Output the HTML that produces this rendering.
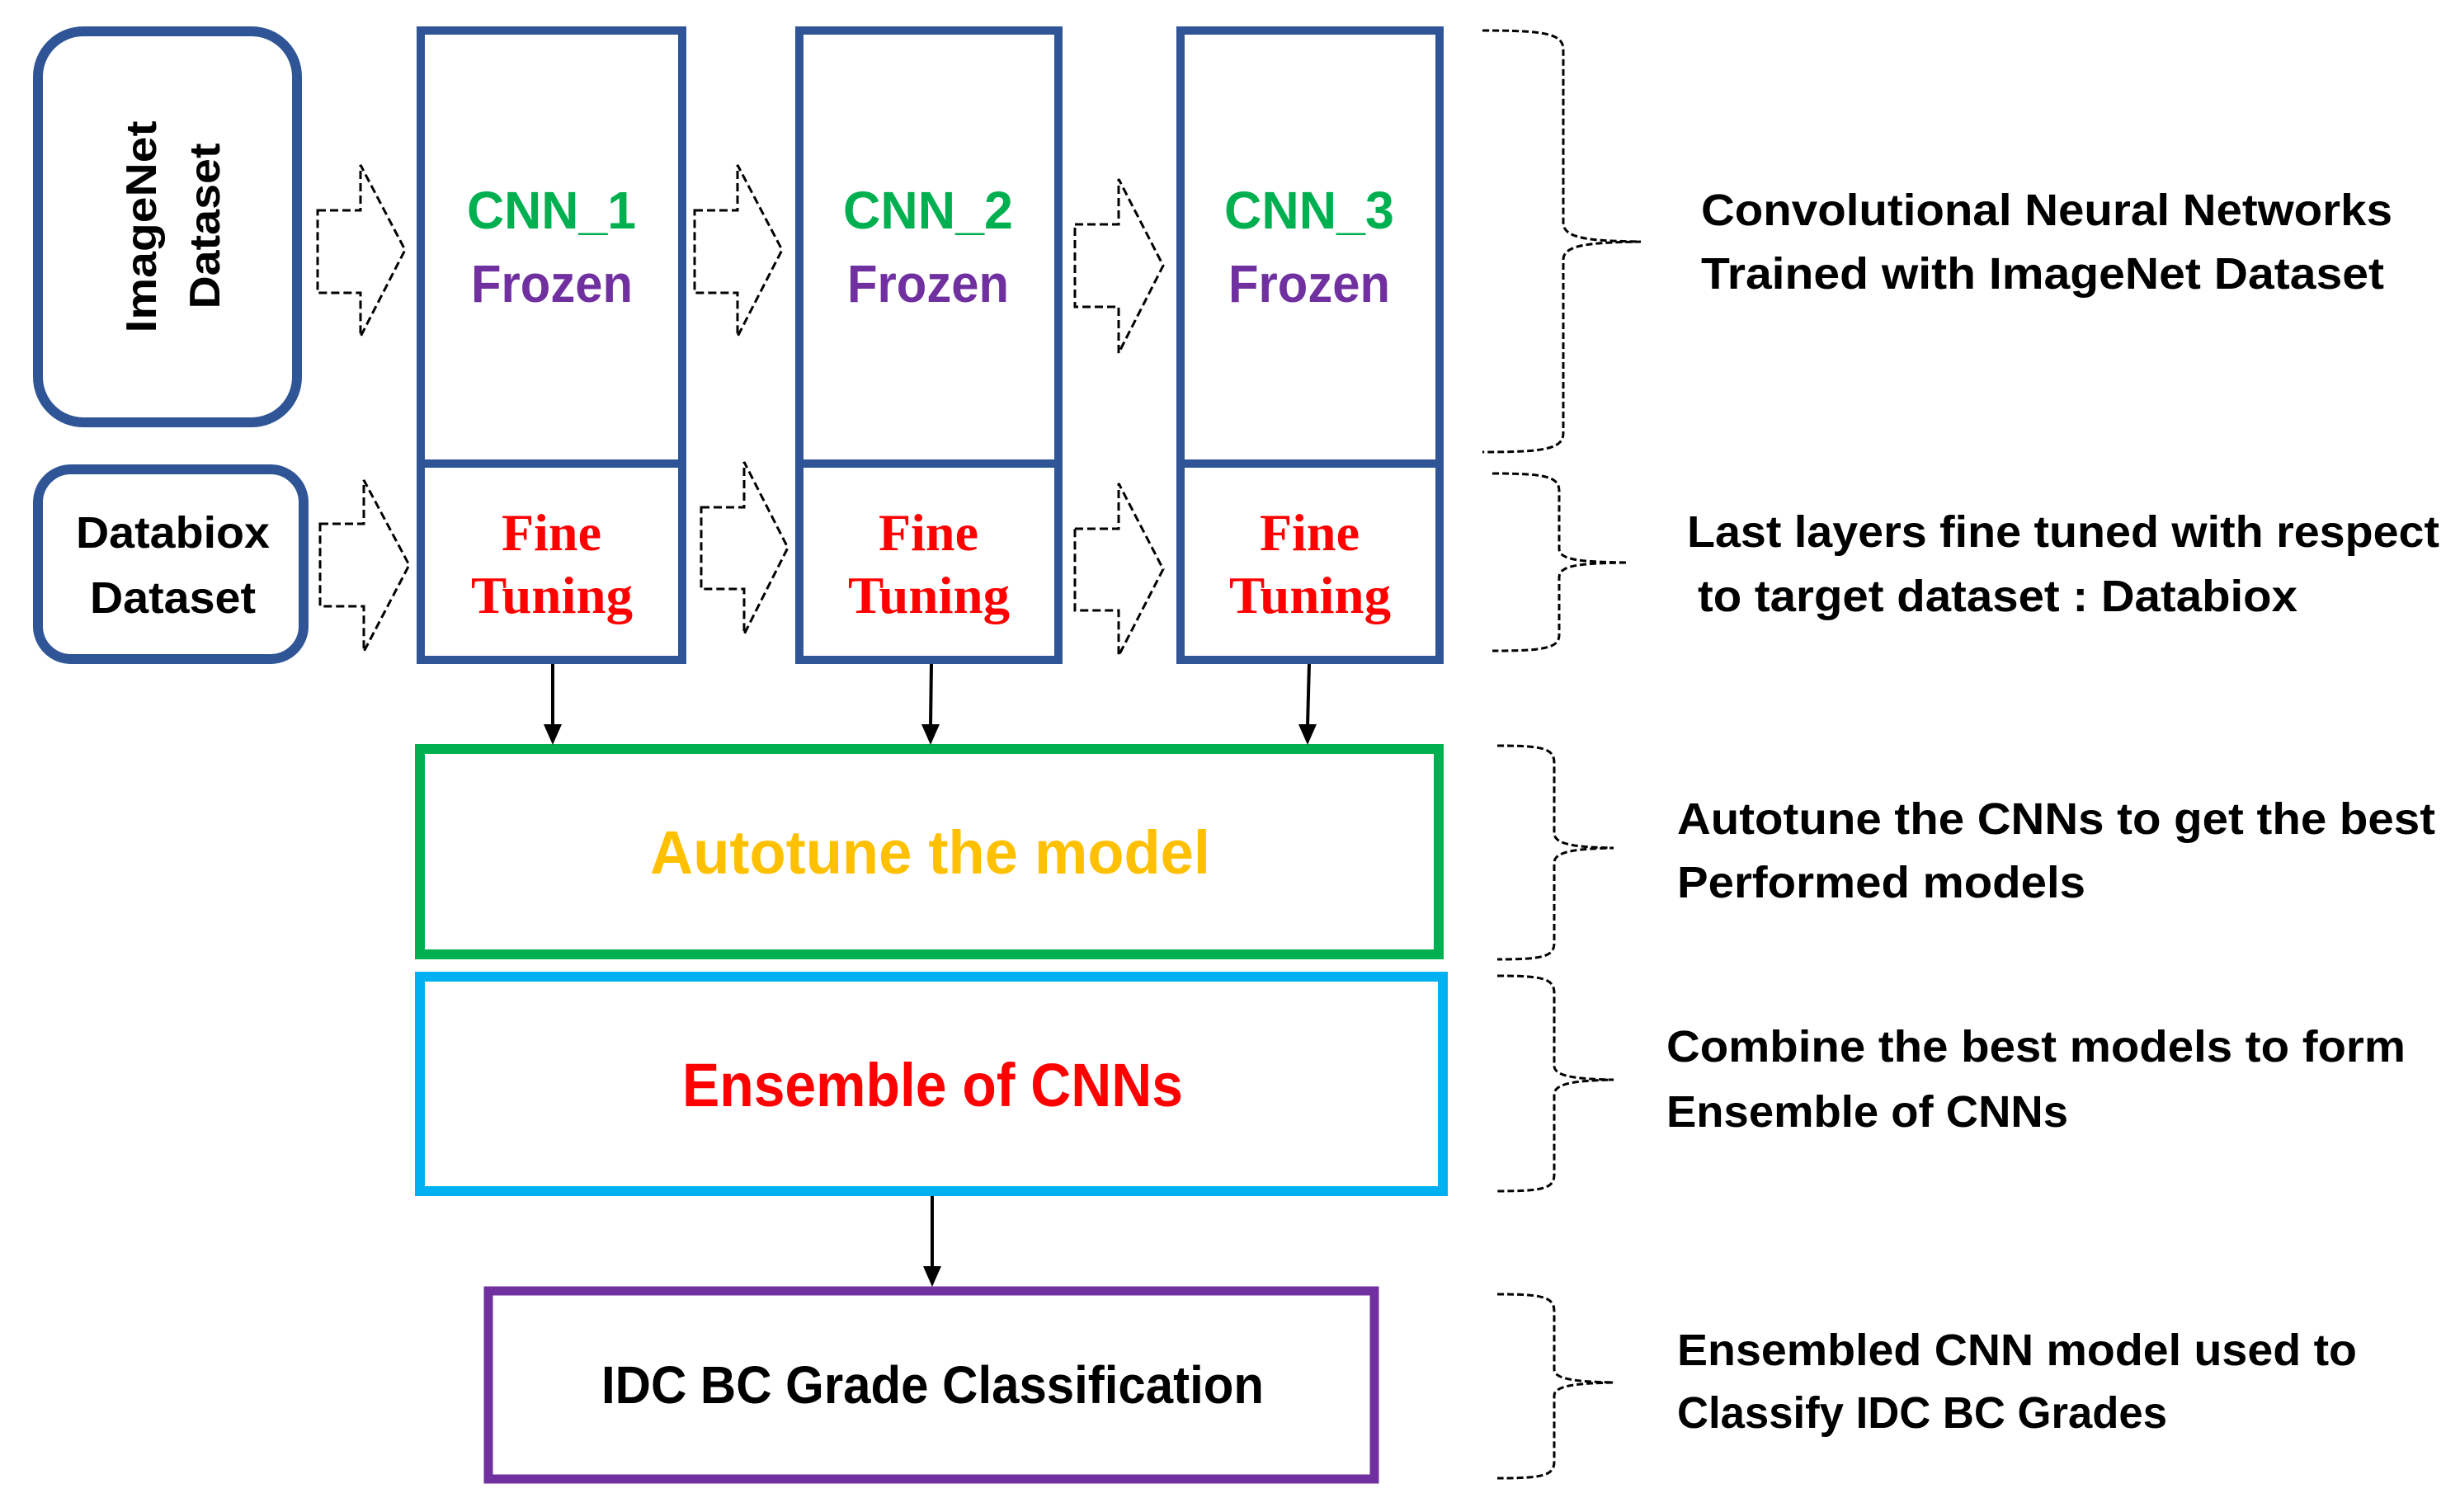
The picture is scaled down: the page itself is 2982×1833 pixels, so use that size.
<!DOCTYPE html>
<html><head><meta charset="utf-8"><style>
html,body{margin:0;padding:0;background:#fff;}
svg{display:block;}
text{font-family:"Liberation Sans",sans-serif;font-weight:bold;}
.serif{font-family:"Liberation Serif",serif;}
</style></head><body>
<svg width="2982" height="1833" viewBox="0 0 2982 1833" xmlns="http://www.w3.org/2000/svg">
<rect width="2982" height="1833" fill="#fff"/>
<rect x="46" y="38" width="314" height="474" rx="55" fill="none" stroke="#2F5597" stroke-width="12"/>
<rect x="46" y="569" width="322" height="230" rx="40" fill="none" stroke="#2F5597" stroke-width="12"/>
<g fill="none" stroke="#2F5597" stroke-width="10">
<rect x="510" y="37" width="317" height="763"/><line x1="510" y1="562" x2="827" y2="562"/>
<rect x="969" y="37" width="314" height="763"/><line x1="969" y1="562" x2="1283" y2="562"/>
<rect x="1431" y="37" width="314" height="763"/><line x1="1431" y1="562" x2="1745" y2="562"/>
</g>
<g fill="none" stroke="#000" stroke-width="3" stroke-dasharray="10,5">
<polygon points="385,255 437,255 437,200 491,303 437,408 437,355 385,355"/>
<polygon points="842,255 894,255 894,200 948,303 894,408 894,355 842,355"/>
<polygon points="1303,272 1356,272 1356,217 1410,322 1356,428 1356,372 1303,372"/>
<polygon points="388,635 441,635 441,582 496,685 441,790 441,735 388,735"/>
<polygon points="850,615 902,615 902,560 955,664 902,769 902,714 850,714"/>
<polygon points="1303,641 1356,641 1356,586 1410,690 1356,795 1356,740 1303,740"/>
</g>
<rect x="509" y="908" width="1235" height="249" fill="none" stroke="#00B050" stroke-width="12"/>
<rect x="509" y="1184" width="1240" height="260" fill="none" stroke="#00B0F0" stroke-width="12"/>
<rect x="592" y="1565" width="1074" height="228" fill="none" stroke="#7030A0" stroke-width="11"/>
<g stroke="#000" stroke-width="4">
<line x1="670" y1="805" x2="670" y2="880"/>
<line x1="1129" y1="805" x2="1128" y2="880"/>
<line x1="1587" y1="805" x2="1585" y2="880"/>
<line x1="1130" y1="1450" x2="1130" y2="1537"/>
</g>
<g fill="#000">
<polygon points="659,878 681,878 670,903"/>
<polygon points="1117,878 1139,878 1128,903"/>
<polygon points="1574,878 1596,878 1585,903"/>
<polygon points="1119,1535 1141,1535 1130,1560"/>
</g>
<g fill="none" stroke="#000" stroke-width="3" stroke-dasharray="8,4">
<path d="M1797,37 C1870,37 1895,40 1895,60 L1895,270 C1895,290 1930,292 1989,293 C1930,294 1895,296 1895,315 L1895,525 C1895,545 1870,548 1797,548"/>
<path d="M1809,574 C1870,574 1890,577 1890,595 L1890,665 C1890,680 1920,681 1973,682 C1920,683 1890,684 1890,700 L1890,770 C1890,786 1870,789 1809,789"/>
<path d="M1815,904 C1870,904 1884,907 1884,925 L1884,1010 C1884,1025 1915,1027 1956,1028 C1915,1029 1884,1031 1884,1046 L1884,1143 C1884,1160 1870,1163 1815,1163"/>
<path d="M1815,1183 C1870,1183 1884,1186 1884,1204 L1884,1292 C1884,1306 1915,1308 1956,1309 C1915,1310 1884,1312 1884,1327 L1884,1424 C1884,1441 1870,1444 1815,1444"/>
<path d="M1815,1569 C1870,1569 1884,1572 1884,1590 L1884,1660 C1884,1673 1915,1675 1956,1676 C1915,1677 1884,1679 1884,1692 L1884,1772 C1884,1789 1870,1792 1815,1792"/>
</g>
<text x="189" y="275" font-size="52" text-anchor="middle" textLength="257" lengthAdjust="spacingAndGlyphs" transform="rotate(-90 189 275)">ImageNet</text>
<text x="266" y="274" font-size="52" text-anchor="middle" textLength="201" lengthAdjust="spacingAndGlyphs" transform="rotate(-90 266 274)">Dataset</text>
<text x="92" y="664" font-size="54" textLength="235" lengthAdjust="spacingAndGlyphs">Databiox</text>
<text x="109" y="743" font-size="54" textLength="201" lengthAdjust="spacingAndGlyphs">Dataset</text>
<g font-size="64">
<text x="566" y="277" fill="#00B050" textLength="205" lengthAdjust="spacingAndGlyphs">CNN_1</text>
<text x="571" y="366" fill="#7030A0" textLength="196" lengthAdjust="spacingAndGlyphs">Frozen</text>
<text x="1022" y="277" fill="#00B050" textLength="206" lengthAdjust="spacingAndGlyphs">CNN_2</text>
<text x="1027" y="366" fill="#7030A0" textLength="196" lengthAdjust="spacingAndGlyphs">Frozen</text>
<text x="1484" y="277" fill="#00B050" textLength="206" lengthAdjust="spacingAndGlyphs">CNN_3</text>
<text x="1489" y="366" fill="#7030A0" textLength="196" lengthAdjust="spacingAndGlyphs">Frozen</text>
</g>
<g font-size="64" fill="#FF0000">
<text class="serif" x="608" y="667" textLength="121" lengthAdjust="spacingAndGlyphs">Fine</text>
<text class="serif" x="571" y="743" textLength="196" lengthAdjust="spacingAndGlyphs">Tuning</text>
<text class="serif" x="1065" y="667" textLength="121" lengthAdjust="spacingAndGlyphs">Fine</text>
<text class="serif" x="1028" y="743" textLength="196" lengthAdjust="spacingAndGlyphs">Tuning</text>
<text class="serif" x="1527" y="667" textLength="121" lengthAdjust="spacingAndGlyphs">Fine</text>
<text class="serif" x="1490" y="743" textLength="196" lengthAdjust="spacingAndGlyphs">Tuning</text>
</g>
<text x="788" y="1059" font-size="74" fill="#FFC000" textLength="679" lengthAdjust="spacingAndGlyphs">Autotune the model</text>
<text x="827" y="1341" font-size="74" fill="#FF0000" textLength="607" lengthAdjust="spacingAndGlyphs">Ensemble of CNNs</text>
<text x="729" y="1701" font-size="64" fill="#000" textLength="803" lengthAdjust="spacingAndGlyphs">IDC BC Grade Classification</text>
<g font-size="54" fill="#000">
<text x="2062" y="273" textLength="838" lengthAdjust="spacingAndGlyphs">Convolutional Neural Networks</text>
<text x="2062" y="350" textLength="828" lengthAdjust="spacingAndGlyphs">Trained with ImageNet Dataset</text>
<text x="2045" y="663" textLength="912" lengthAdjust="spacingAndGlyphs">Last layers fine tuned with respect</text>
<text x="2058" y="741" textLength="727" lengthAdjust="spacingAndGlyphs">to target dataset : Databiox</text>
<text x="2033" y="1011" textLength="919" lengthAdjust="spacingAndGlyphs">Autotune the CNNs to get the best</text>
<text x="2033" y="1088" textLength="495" lengthAdjust="spacingAndGlyphs">Performed models</text>
<text x="2020" y="1287" textLength="896" lengthAdjust="spacingAndGlyphs">Combine the best models to form</text>
<text x="2020" y="1366" textLength="487" lengthAdjust="spacingAndGlyphs">Ensemble of CNNs</text>
<text x="2033" y="1655" textLength="824" lengthAdjust="spacingAndGlyphs">Ensembled CNN model used to</text>
<text x="2033" y="1731" textLength="594" lengthAdjust="spacingAndGlyphs">Classify IDC BC Grades</text>
</g>
</svg>
</body></html>
